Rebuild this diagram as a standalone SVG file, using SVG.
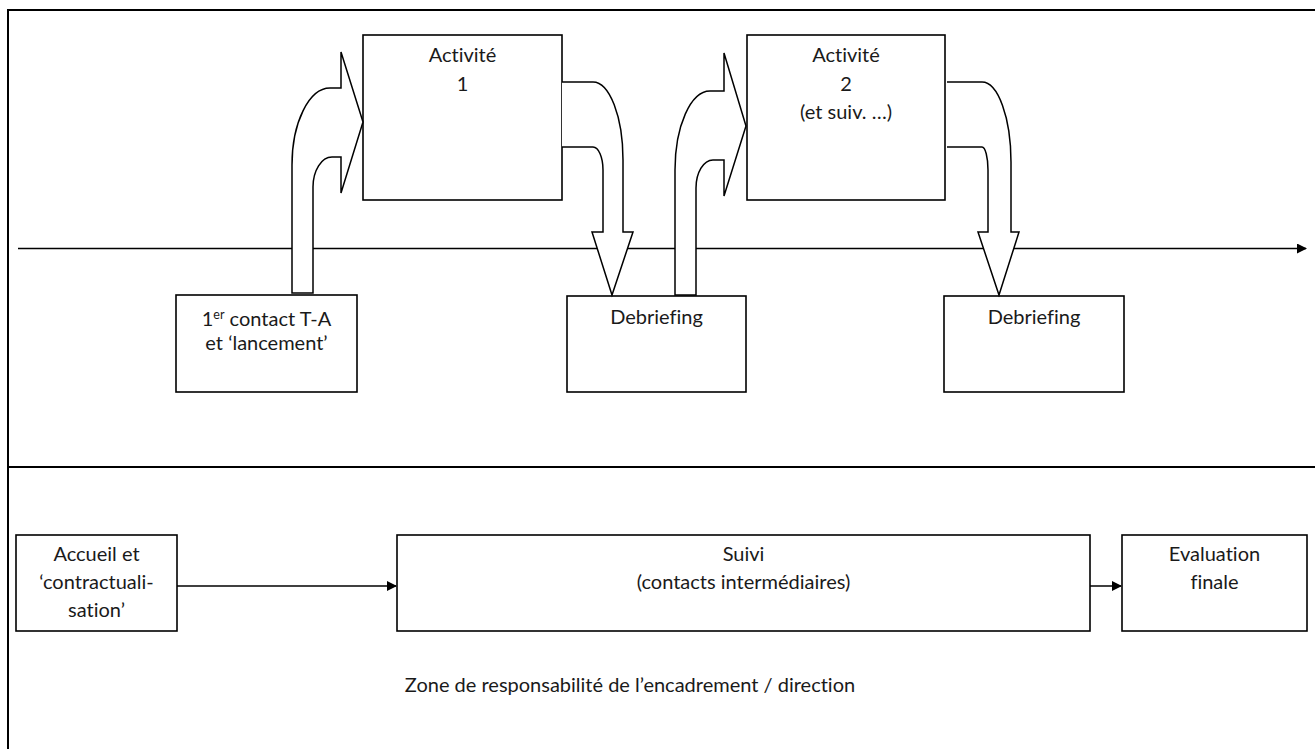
<svg xmlns="http://www.w3.org/2000/svg" width="1315" height="749" viewBox="0 0 1315 749">
<defs>
<style>
.box{fill:#fff;stroke:#000;stroke-width:1.6}
.frame{fill:none;stroke:#000;stroke-width:2}
.big{fill:#fff;stroke:#000;stroke-width:1.5;stroke-linejoin:miter}
.ln{fill:none;stroke:#000;stroke-width:1.5}
text{font-family:Lato,"Open Sans","Liberation Sans",sans-serif;font-size:20px;fill:#1a1a1a;text-anchor:middle;font-variant-ligatures:none;font-feature-settings:"liga" 0}
</style>
<marker id="ah" markerWidth="10" markerHeight="10" refX="9" refY="5" orient="auto" markerUnits="userSpaceOnUse">
<path d="M0,0 L10,5 L0,10 Z" fill="#000"/>
</marker>
</defs>
<rect width="1315" height="749" fill="#fff"/>
<g id="frame">
<path class="frame" d="M8,749 L8,10 L1315,10"/>
<path class="frame" d="M8,467 L1315,467"/>
</g>
<g id="timeline">
<path class="ln" d="M18,248.5 L1306,248.5" marker-end="url(#ah)"/>
</g>
<g id="activite1">
<rect class="box" x="363" y="35" width="199" height="165"/>
<text x="462.5" y="62">Activité</text>
<text x="462.5" y="91">1</text>
</g>
<g id="activite2">
<rect class="box" x="747" y="35" width="198" height="165"/>
<text x="846" y="62">Activité</text>
<text x="846" y="91">2</text>
<text x="846" y="119">(et suiv. …)</text>
</g>
<g id="contact">
<rect class="box" x="176" y="295" width="181" height="97"/>
<text x="266.5" y="326">1<tspan font-size="12.5" dy="-7">er</tspan><tspan dy="7"> contact T-A</tspan></text>
<text x="266.5" y="350">et ‘lancement’</text>
</g>
<g id="debriefing1">
<rect class="box" x="567" y="296" width="179" height="96"/>
<text x="656.5" y="324">Debriefing</text>
</g>
<g id="debriefing2">
<rect class="box" x="944" y="296" width="180" height="96"/>
<text x="1034" y="324">Debriefing</text>
</g>
<g id="connectors">
<path class="big" d="M292,293 L292,165 A38,77 0 0 1 330,88 L341,88 L341,52 L363,122 L341,193 L341,157 L332,157 A19,30 0 0 0 313,187 L313,293 Z"/>
<path class="big" d="M675,295 L675,170 A35,79 0 0 1 710,91 L724,91 L724,53 L746,126 L724,196 L724,160 L713,160 A17,28 0 0 0 696,188 L696,295 Z"/>
<path class="big" d="M562,82 L593,82 A30,78 0 0 1 623,160 L623,232 L633,232 L612,295 L592,232 L603,232 L603,170 A10,23 0 0 0 593,147 L562,147"/>
<path class="big" d="M947,82 L982,82 A29,80 0 0 1 1011,162 L1011,232 L1019,232 L999,295 L978,232 L988,232 L988,170 A6,23 0 0 0 982,147 L947,147"/>
<path class="ln" d="M177,586 L396,586" marker-end="url(#ah)"/>
<path class="ln" d="M1090,586 L1121,586" marker-end="url(#ah)"/>
</g>
<g id="accueil">
<rect class="box" x="16" y="535" width="161" height="96"/>
<text x="96.5" y="561">Accueil et</text>
<text x="96.5" y="589">‘contractuali-</text>
<text x="96.5" y="617">sation’</text>
</g>
<g id="suivi">
<rect class="box" x="397" y="535" width="693" height="96"/>
<text x="743.5" y="561">Suivi</text>
<text x="743.5" y="589">(contacts intermédiaires)</text>
</g>
<g id="evaluation">
<rect class="box" x="1122" y="535" width="185" height="96"/>
<text x="1214.5" y="561">Evaluation</text>
<text x="1214.5" y="589">finale</text>
</g>
<g id="zone">
<text x="630" y="692">Zone de responsabilité de l’encadrement / direction</text>
</g>
</svg>
